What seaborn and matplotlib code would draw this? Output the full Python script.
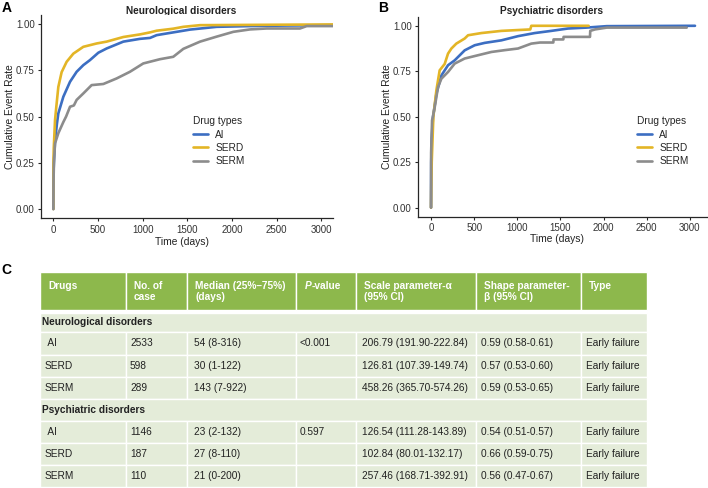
import pandas as pd
import matplotlib
matplotlib.use('Agg')
import matplotlib.pyplot as plt
from matplotlib.patches import Rectangle
import seaborn as sns

# --- curves: (days, cumulative event rate) ---
drug_types = ['AI', 'SERD', 'SERM']
drug_colors = ['#3C6EC2', '#E3B526', '#8C8C8C']

neuro_ai_days = [0, 1, 3, 8, 20, 40, 56, 112, 187, 261, 336, 410, 504, 597, 784, 970, 1083, 1157, 1456, 1530, 1829, 2202, 2600, 3135]
neuro_ai_rate = [0, 0.14, 0.21, 0.27, 0.37, 0.46, 0.517, 0.607, 0.688, 0.742, 0.778, 0.805, 0.845, 0.868, 0.905, 0.92, 0.925, 0.94, 0.964, 0.97, 0.985, 0.989, 0.992, 0.994]
neuro_serd_days = [0, 1, 5, 19, 35, 56, 93, 149, 224, 336, 485, 597, 784, 970, 1083, 1157, 1343, 1456, 1643, 3135]
neuro_serd_rate = [0, 0.25, 0.33, 0.48, 0.56, 0.66, 0.74, 0.796, 0.84, 0.877, 0.895, 0.905, 0.93, 0.944, 0.955, 0.964, 0.975, 0.985, 0.994, 0.998]
neuro_serm_days = [0, 2, 7, 19, 56, 112, 143, 187, 230, 261, 336, 429, 560, 709, 858, 1007, 1194, 1343, 1456, 1643, 1829, 2016, 2202, 2389, 2762, 2837, 3135]
neuro_serm_rate = [0, 0.15, 0.25, 0.355, 0.41, 0.47, 0.5, 0.553, 0.56, 0.59, 0.625, 0.67, 0.676, 0.706, 0.742, 0.787, 0.81, 0.823, 0.866, 0.905, 0.932, 0.958, 0.971, 0.976, 0.976, 0.989, 0.989]

psych_ai_days = [0, 2, 8, 23, 62, 120, 197, 274, 390, 506, 622, 815, 1008, 1201, 1394, 1587, 1800, 2036, 3059]
psych_ai_rate = [0, 0.25, 0.38, 0.497, 0.626, 0.727, 0.783, 0.81, 0.865, 0.893, 0.906, 0.92, 0.943, 0.96, 0.972, 0.985, 0.99, 0.998, 1.0]
psych_serd_days = [0, 3, 8, 27, 35, 62, 100, 158, 197, 236, 293, 390, 429, 583, 815, 1150, 1162, 1827]
psych_serd_rate = [0, 0.12, 0.25, 0.5, 0.534, 0.645, 0.755, 0.79, 0.847, 0.875, 0.902, 0.93, 0.948, 0.96, 0.972, 0.98, 1.0, 1.0]
psych_serm_days = [0, 1, 12, 21, 42, 81, 120, 197, 274, 390, 544, 699, 853, 1008, 1162, 1263, 1417, 1420, 1533, 1536, 1842, 1845, 1900, 2036, 2963]
psych_serm_rate = [0, 0.3, 0.48, 0.5, 0.55, 0.663, 0.709, 0.746, 0.792, 0.82, 0.838, 0.856, 0.866, 0.875, 0.902, 0.908, 0.908, 0.925, 0.925, 0.939, 0.939, 0.972, 0.98, 0.99, 0.99]

# --- table ---
header_lines = [('Drugs', ''), ('No. of', 'case'), ('Median (25%–75%)', '(days)'), ('P', ''),
                ('Scale parameter-α', '(95% CI)'), ('Shape parameter-', 'β (95% CI)'), ('Type', '')]
sections = ['Neurological disorders', 'Psychiatric disorders']
drug_rows = [' AI', 'SERD', 'SERM']
n_cases = [['2533', '598', '289'], ['1146', '187', '110']]
medians = [['54 (8-316)', '30 (1-122)', '143 (7-922)'], ['23 (2-132)', '27 (8-110)', '21 (0-200)']]
p_values = [['<0.001', '', ''], ['0.597', '', '']]
scale_params = [['206.79 (191.90-222.84)', '126.81 (107.39-149.74)', '458.26 (365.70-574.26)'],
                ['126.54 (111.28-143.89)', '102.84 (80.01-132.17)', '257.46 (168.71-392.91)']]
shape_params = [['0.59 (0.58-0.61)', '0.57 (0.53-0.60)', '0.59 (0.53-0.65)'],
                ['0.54 (0.51-0.57)', '0.66 (0.59-0.75)', '0.56 (0.47-0.67)']]
failure_types = [['Early failure'] * 3, ['Early failure'] * 3]

sns.set_style('ticks')
plt.rcParams['font.family'] = ['Liberation Sans', 'DejaVu Sans']
TXT = '#222222'


def draw_panel(ax, days, rates, xlim, legend_xy, xlabel_xy):
    frames = []
    for drug, d, r in zip(drug_types, days, rates):
        frames.append(pd.DataFrame({'day': d, 'rate': r, 'drug': drug}))
    df = pd.concat(frames, ignore_index=True)
    sns.lineplot(data=df, x='day', y='rate', hue='drug', hue_order=drug_types,
                 palette=dict(zip(drug_types, drug_colors)), estimator=None,
                 sort=False, lw=1.9, ax=ax)
    ax.set_xlim(*xlim)
    ax.set_ylim(-0.05, 1.05)
    ax.set_xticks([0, 500, 1000, 1500, 2000, 2500, 3000])
    ax.set_yticks([0, 0.25, 0.5, 0.75, 1.0])
    ax.set_yticklabels(['0.00', '0.25', '0.50', '0.75', '1.00'])
    ax.set_xlabel('Time (days)', fontsize=7.4, color=TXT)
    ax.xaxis.set_label_coords(*xlabel_xy)
    ax.set_ylabel('Cumulative Event Rate', fontsize=7.4, color=TXT, labelpad=1)
    ax.tick_params(length=2.5, width=0.8, pad=2, labelsize=7, labelcolor='#333333')
    for s in ['left', 'bottom']:
        ax.spines[s].set_linewidth(0.9)
    sns.despine(ax=ax)
    handles, labels = ax.get_legend_handles_labels()
    ax.legend(handles, labels, title='Drug types', loc='upper left',
              bbox_to_anchor=legend_xy, bbox_transform=ax.figure.transFigure,
              frameon=False, fontsize=7.3, title_fontsize=7.3, alignment='left',
              borderpad=0, borderaxespad=0, labelspacing=0.32, handlelength=1.5,
              handletextpad=0.7)


W, H = 708, 488
fig = plt.figure(figsize=(W / 100, H / 100), dpi=100)

ax_a = fig.add_axes([41 / W, 1 - 218.3 / H, 292.3 / W, 203.5 / H])
ax_b = fig.add_axes([418 / W, 1 - 216.7 / H, 289 / W, 200 / H])

draw_panel(ax_a, [neuro_ai_days, neuro_serd_days, neuro_serm_days],
           [neuro_ai_rate, neuro_serd_rate, neuro_serm_rate], (-138, 3135),
           (193 / W, 1 - 116.5 / H), (0.483, -0.092))
draw_panel(ax_b, [psych_ai_days, psych_serd_days, psych_serm_days],
           [psych_ai_rate, psych_serd_rate, psych_serm_rate], (-151, 3198),
           (637 / W, 1 - 116.5 / H), (0.481, -0.089))

# overlay axes in pixel coordinates for titles, letters and the table
tax = fig.add_axes([0, 0, 1, 1], zorder=-1)
tax.set_xlim(0, W)
tax.set_ylim(H, 0)
tax.axis('off')

tax.text(181.5, 10.7, 'Neurological disorders', ha='center', va='center', fontsize=7.3, fontweight='bold', color=TXT)
tax.text(551.5, 10.7, 'Psychiatric disorders', ha='center', va='center', fontsize=7.3, fontweight='bold', color=TXT)
for letter, x, y in [('A', 1.5, 8.5), ('B', 378.5, 7.5), ('C', 1.5, 270)]:
    tax.text(x, y, letter, ha='left', va='center', fontsize=10, fontweight='bold', color='black')

col_edges = [40, 126, 187, 296, 356, 476, 581, 647]
row_edges = [272, 311, 332, 355, 377, 399, 421, 443, 465, 487]
head_green = '#8DB84C'
body_green = '#E4ECD9'
FS = 7.25

# header
for i in range(len(col_edges) - 1):
    x0, x1 = col_edges[i], col_edges[i + 1]
    tax.add_patch(Rectangle((x0, 272), x1 - x0, 37.5, facecolor=head_green, edgecolor='white', lw=1.0))
    l1, l2 = header_lines[i]
    if l1 == 'P':
        p = tax.text(x0 + 8.5, 285.7, 'P', ha='left', va='center', fontsize=FS,
                     fontweight='bold', style='italic', color='white')
        tax.annotate('-value', xy=(1, 0.5), xycoords=p, ha='left', va='center',
                     fontsize=FS, fontweight='bold', color='white')
    else:
        tax.text(x0 + 8, 285.7, l1, ha='left', va='center', fontsize=FS, fontweight='bold', color='white')
    if l2:
        tax.text(x0 + 8, 297.3, l2, ha='left', va='center', fontsize=FS, fontweight='bold', color='white')

# body
r = 1
for k, sec in enumerate(sections):
    y0, y1 = row_edges[r], row_edges[r + 1]
    top = y0 + 1.5 if r == 1 else y0
    tax.add_patch(Rectangle((col_edges[0], top), col_edges[-1] - col_edges[0], y1 - top,
                            facecolor=body_green, edgecolor='white', lw=1.0))
    tax.text(col_edges[0] + 2.5, (top + y1) / 2, sec, ha='left', va='center', fontsize=FS,
             fontweight='bold', color=TXT)
    r += 1
    for j in range(3):
        y0, y1 = row_edges[r], row_edges[r + 1]
        cells = [drug_rows[j], n_cases[k][j], medians[k][j], p_values[k][j],
                 scale_params[k][j], shape_params[k][j], failure_types[k][j]]
        pads = [5, 4, 6.5, 4, 6, 5, 5]
        for i, txt in enumerate(cells):
            x0, x1 = col_edges[i], col_edges[i + 1]
            tax.add_patch(Rectangle((x0, y0), x1 - x0, y1 - y0, facecolor=body_green,
                                    edgecolor='white', lw=1.0))
            tax.text(x0 + pads[i], (y0 + y1) / 2, txt, ha='left', va='center',
                     fontsize=FS, color=TXT)
        r += 1

fig.savefig('out.png', dpi=100)
plt.close(fig)
